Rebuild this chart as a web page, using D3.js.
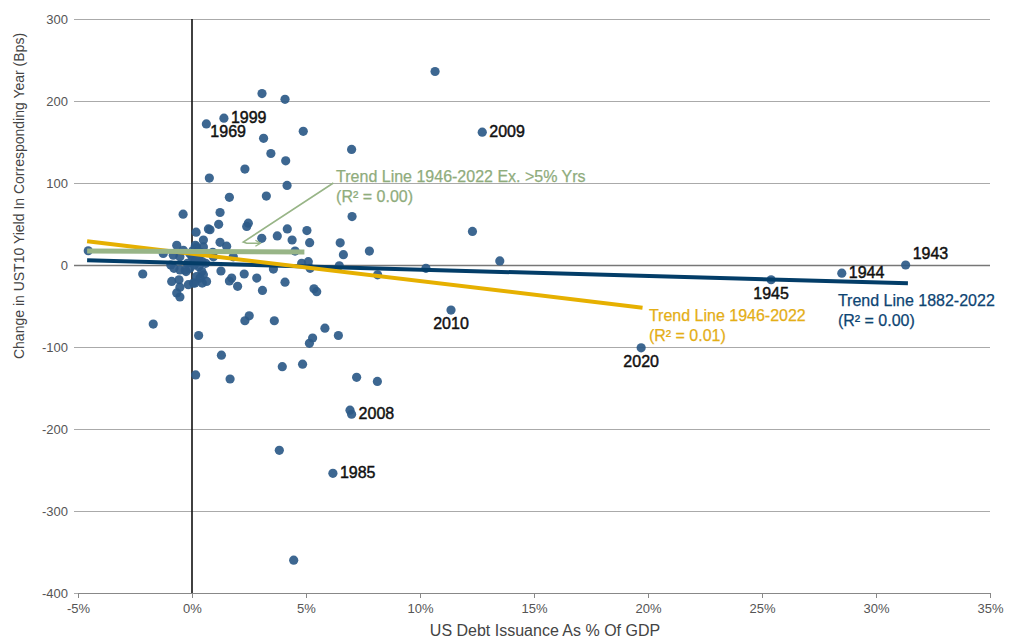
<!DOCTYPE html>
<html>
<head>
<meta charset="utf-8">
<script src="https://cdn.jsdelivr.net/npm/d3@7"></script>
<style>
  body { margin: 0; background: #fff; }
  svg { font-family: "Liberation Sans", Arial, sans-serif; }
</style>
</head>
<body>
<svg id="chart" width="1016" height="644"></svg>
<script>
// debt issuance as % of GDP
var issuance = [10.66, 3.07, 4.08, 1.4, 0.63, 4.88, 12.73, 3.14, 7.0, 3.46, 4.11, 2.32, 0.76, 4.17, 3.26, 1.64,
  1.23, -0.39, 7.02, 2.47, 2.4, 1.17, 0.72, 0.79, 4.18, 5.04, 12.3, 0.18, 3.74, 3.06, 0.5, 4.39, 1.23, 5.16,
  6.5, -0.67, 1.52, -0.38, 4.52, 7.78, -4.55, 0.91, -1.26, 6.64, -0.82, -0.53, 1.81, 0.94, 13.5, 5.1, 4.81,
  0.3, 0.1, 0.4, 0.2, 0.0, 0.6, 0.3, -0.93, -0.79, -0.53, -0.26, -0.09, 0.43, 1.27, 5.18, 6.46, 3.57, 10.26,
  31.3, 28.5, 25.4, -2.16, 2.29, 8.14, -0.57, -0.89, 0.64, 0.45, 0.06, 0.13, 1.64, 1.74, 2.84, 4.08, -0.16,
  2.0, -0.53, 5.35, 5.47, 3.09, -0.67, -0.53, 11.36, 2.51, 2.32, 3.61, -1.7, 5.83, 0.29, 6.42, 5.29, 5.15,
  19.7, 1.29, 4.85, 3.96, 0.16, 7.22, 1.67, 8.13, 6.93, 7.0, 3.83, 6.18, 4.46,
  0.2, 0.5, 0.0, 0.05, 0.1, 0.2, -0.2, 0.5, 0.35, 0.2, -0.1, 0.15, 0.25, 0.45, -0.3];
// change in UST10 yield (bps)
var yieldChange = [236, 209, 202, 179, 172, 163, 162, 154.5, 141, 136, 127, 117, 106, 97, 84, 82.5,
  64, 62, 59, 51, 47, 49.6, 44, 43, 44, 42, 41, 40, 35.4, 32.5, 30.5, 30.5, 27.7, 27.2,
  27, 24, 23, 18, 17, 17, 17.4, 15.5, 14, 12.6, 12, 10, 10, 10, 5, 4, 2,
  8, 4, 15, 20, 12, 2, -2, 0, -4, -6, -8, -4, -8, -7.3, -4, -1, -5, -4,
  0, -10, -18, -11, -11, -12, -18, -20, -20, -22, -22, -22, -19.5, -16, -16, -21, -24,
  -26, -27, -29, -32.5, -31, -34, -39, -55, -62, -68, -68, -72, -77, -86, -86, -89, -95.5,
  -101, -110, -121, -124, -134, -137, -139, -142, -177, -182, -226, -254, -360,
  22, 22, 10, 18, 0, 6, 2, -12, -16, -14, 14, 24, 16, 4, -6];

// labelled years
var yearLabels = ["1999", "1969", "2009", "2008", "1985", "2010", "2020", "1945", "1944", "1943"];
var yearX = [1.4, 0.63, 12.73, 7.0, 6.18, 11.36, 19.7, 25.4, 28.5, 31.3];
var yearY = [179, 172, 162, -182, -254, -55, -101, -18, -10, 0];
var yearPos = ["right", "rightBelow", "right", "right", "right", "below", "below", "below", "right", "aboveRight"];

// trend lines: [x0, y0, x1, y1]
var trendEnds = [[-4.6, 5.7, 31.4, -22.3], [-4.6, 29, 19.76, -52], [-4.6, 17, 4.93, 15.8]];
var trendColors = ["#033d68", "#e6b000", "#98b587"];
var trendText = [["Trend Line 1882-2022", "(R\u00b2 = 0.00)"], ["Trend Line 1946-2022", "(R\u00b2 = 0.01)"],
  ["Trend Line 1946-2022 Ex. >5% Yrs", "(R\u00b2 = 0.00)"]];
var trendTextAt = [[28.33, -50], [20.04, -68], [6.32, 101]];
var trendTextColors = ["#0d4473", "#e4ae16", "#8fac7c"];

var xTicks = [-5, 0, 5, 10, 15, 20, 25, 30, 35];
var yTicks = [-400, -300, -200, -100, 0, 100, 200, 300];

var svg = d3.select("#chart");
var x = d3.scaleLinear().domain([-5, 35]).range([78, 990]);
var y = d3.scaleLinear().domain([-400, 300]).range([593, 19]);

// y grid + labels
var yAxis = svg.append("g")
  .attr("transform", "translate(78,0)")
  .call(d3.axisLeft(y).tickValues(yTicks).tickSize(-(990 - 78)).tickSizeOuter(0).tickPadding(10)
    .tickFormat(function(d) { return String(d); }));
yAxis.select(".domain").remove();
yAxis.selectAll("line")
  .attr("x1", -4)
  .attr("stroke", function(d) { return d === 0 ? "#777" : "#aaa"; })
  .attr("stroke-width", function(d) { return d === 0 ? 1.6 : 1; });
yAxis.selectAll("text").attr("fill", "#555").style("font-size", "13px");

// x axis
var xAxis = svg.append("g")
  .attr("transform", "translate(0,593)")
  .call(d3.axisBottom(x).tickValues(xTicks).tickSize(5).tickSizeOuter(5)
    .tickFormat(function(d) { return d + "%"; }));
xAxis.select(".domain").attr("stroke", "#888");
xAxis.selectAll("line").attr("stroke", "#888");
xAxis.selectAll("text").attr("fill", "#555").style("font-size", "13px").attr("dy", "0.9em");

// zero vertical line
svg.append("line")
  .attr("x1", x(0)).attr("x2", x(0))
  .attr("y1", y(300)).attr("y2", y(-400))
  .attr("stroke", "#111").attr("stroke-width", 1.6);

// dots
svg.append("g").selectAll("circle")
  .data(d3.range(issuance.length))
  .enter().append("circle")
  .attr("cx", function(i) { return x(issuance[i]); })
  .attr("cy", function(i) { return y(yieldChange[i]); })
  .attr("r", 4.6)
  .attr("fill", "#2c5a88")
  .attr("fill-opacity", 0.92);

// trend lines
svg.append("g").selectAll("line")
  .data(trendEnds)
  .enter().append("line")
  .attr("x1", function(d) { return x(d[0]); })
  .attr("y1", function(d) { return y(d[1]); })
  .attr("x2", function(d) { return x(d[2]); })
  .attr("y2", function(d) { return y(d[3]); })
  .attr("stroke", function(d, i) { return trendColors[i]; })
  .attr("stroke-width", function(d, i) { return i === 2 ? 5 : 4; });

// leader for the green label
var leader = [[6.2, 100], [2.25, 28], [2.4, 26.5], [3.0, 26.5]];
svg.append("path")
  .attr("d", d3.line().x(function(d) { return x(d[0]); }).y(function(d) { return y(d[1]); })(leader))
  .attr("fill", "none").attr("stroke", "#98b587").attr("stroke-width", 1.6);
svg.append("path")
  .attr("d", "M" + (x(3.0) - 5) + "," + (y(26.5) - 3) + "L" + x(3.0) + "," + y(26.5) + "L" + (x(3.0) - 5) + "," + (y(26.5) + 3))
  .attr("fill", "none").attr("stroke", "#98b587").attr("stroke-width", 1.4);

// trend labels
var tl = svg.append("g").selectAll("text")
  .data(trendText)
  .enter().append("text")
  .attr("x", function(d, i) { return x(trendTextAt[i][0]); })
  .attr("y", function(d, i) { return y(trendTextAt[i][1]); })
  .attr("fill", function(d, i) { return trendTextColors[i]; })
  .style("font-size", "16px")
  .style("stroke", function(d, i) { return trendTextColors[i]; })
  .style("stroke-width", 0.25);
tl.append("tspan").text(function(d) { return d[0]; });
tl.append("tspan")
  .attr("x", function(d, i) { return x(trendTextAt[i][0]); })
  .attr("dy", 20)
  .text(function(d) { return d[1]; });

// year labels
svg.append("g").selectAll("text")
  .data(yearLabels)
  .enter().append("text")
  .attr("x", function(d, i) {
    var px = x(yearX[i]);
    if (yearPos[i] === "below") return px;
    if (yearPos[i] === "rightBelow") return px + 4;
    return px + 7;
  })
  .attr("y", function(d, i) {
    var py = y(yearY[i]);
    if (yearPos[i] === "below") return py + 19;
    if (yearPos[i] === "rightBelow") return py + 13;
    if (yearPos[i] === "aboveRight") return py - 6;
    return py + 5;
  })
  .attr("text-anchor", function(d, i) { return yearPos[i] === "below" ? "middle" : "start"; })
  .attr("fill", "#111")
  .style("font-size", "16px")
  .style("stroke", "#111")
  .style("stroke-width", 0.45)
  .text(function(d) { return d; });

// axis titles
svg.append("text")
  .attr("transform", "translate(24,196) rotate(-90)")
  .attr("text-anchor", "middle")
  .attr("fill", "#444")
  .style("font-size", "14px")
  .text("Change in UST10 Yield In Corresponding Year (Bps)");

svg.append("text")
  .attr("x", 545)
  .attr("y", 636)
  .attr("text-anchor", "middle")
  .attr("fill", "#444")
  .style("font-size", "16px")
  .text("US Debt Issuance As % Of GDP");
</script>
</body>
</html>
